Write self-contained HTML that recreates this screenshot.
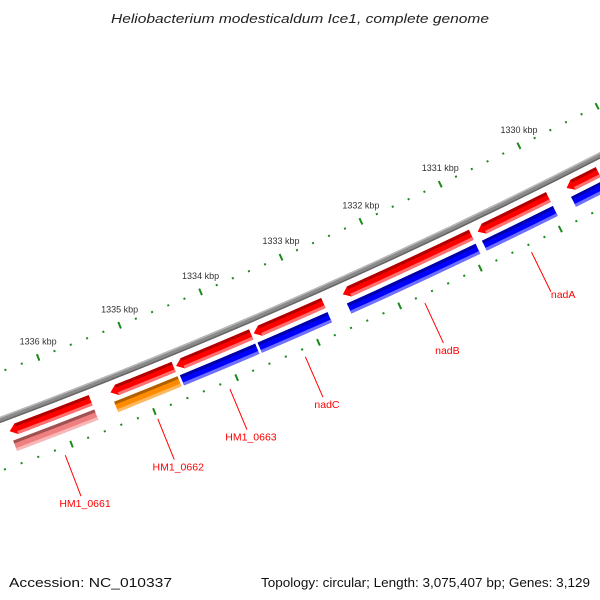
<!DOCTYPE html>
<html><head><meta charset="utf-8"><style>
html,body{margin:0;padding:0;background:#fff;}
svg{display:block;font-family:"Liberation Sans","DejaVu Sans",sans-serif;}
</style></head><body>
<svg id="chart" width="600" height="600" viewBox="0 0 600 600" xmlns="http://www.w3.org/2000/svg">
<rect width="600" height="600" fill="#fff"/>
<text x="300" y="23" text-anchor="middle" font-size="13" font-style="italic" fill="#222" textLength="378" lengthAdjust="spacingAndGlyphs">Heliobacterium modesticaldum Ice1, complete genome</text>
<text x="9" y="587" font-size="13" fill="#111" textLength="163" lengthAdjust="spacingAndGlyphs">Accession: NC_010337</text>
<text x="590" y="587" text-anchor="end" font-size="13" fill="#111" textLength="329" lengthAdjust="spacingAndGlyphs">Topology: circular; Length: 3,075,407 bp; Genes: 3,129</text>
<g id="plot"></g>
</svg>
<script>
// data (kbp)
const geneNames = ["HM1_0661","HM1_0662","HM1_0663","nadC","nadB","nadA","",""];
const geneStarts = [1336.60,1335.38,1334.58,1333.63,1332.53,1330.85,1329.73,1329.30];
const geneEnds   = [1335.62,1334.61,1333.66,1332.77,1330.93,1329.96,1329.33,1328.40];
const cogColors  = ["pink","orange","blue","blue","blue","blue","blue","blue"];
const tickLabels = [1330,1331,1332,1333,1334,1335,1336];
const tickMin = 1327, tickMax = 1338;

const CX=-1977, CY=-4875;
const A0=66.252, DEG_PER_KBP=0.895;
const R_BACK=5652, R_GENE0=5660.5, R_GENE1=5671.5, R_COG0=5676, R_COG1=5687;
const R_TOUT=5607, R_TIN=5700, R_L0=5708, R_L1=5752;
const NS="http://www.w3.org/2000/svg";
const plot=document.getElementById('plot');
function ang(k){return (A0+(k-1333)*DEG_PER_KBP)*Math.PI/180;}
function pt(r,a){return [CX+r*Math.cos(a), CY+r*Math.sin(a)];}
function f(p){return p[0].toFixed(2)+","+p[1].toFixed(2);}
function band(r0,r1,aS,aL){
  return "M"+f(pt(r0,aS))+" A"+r0+","+r0+" 0 0 1 "+f(pt(r0,aL))+" L"+f(pt(r1,aL))+" A"+r1+","+r1+" 0 0 0 "+f(pt(r1,aS))+" Z";
}
function mk(tag,attrs){const e=document.createElementNS(NS,tag);for(const k in attrs)e.setAttribute(k,attrs[k]);plot.appendChild(e);return e;}
const pal={
  red:["#ff0000","#b00000","#ff7070"],
  blue:["#0000ff","#0000a8","#7070ff"],
  pink:["#f08080","#a05050","#f8b8b8"],
  orange:["#ff8c00","#b06000","#ffb860"]
};

// backbone
{
  const aS=ang(1326), aL=ang(1339);
  let e=mk('path',{d:band(R_BACK-3,R_BACK+3,aS,aL),fill:"#8a8a8a"});
  
  
  e=mk('path',{d:band(R_BACK-3,R_BACK-1.5,aS,aL),fill:"#b8b8b8"});
  
  
  e=mk('path',{d:band(R_BACK+1.5,R_BACK+3,aS,aL),fill:"#666"});
  
  
}

// ticks
function ticks(r,ring){
  for(let i=Math.round(tickMin*5);i<=Math.round(tickMax*5);i++){
    const k=i/5, major=(i%5===0), a=ang(k);
    const h=major?3.5:1;
    const p0=pt(r-h,a), p1=pt(r+h,a);
    const e=mk('line',{x1:p0[0],y1:p0[1],x2:p1[0],y2:p1[1],stroke:"#1a8a1a","stroke-width":major?2:2});
    
    
  }
}
ticks(R_TOUT,'outer');
ticks(R_TIN,'inner');
tickLabels.forEach(k=>{
  const p=pt(R_TOUT,ang(k));
  const t=mk('text',{x:p[0],y:p[1]-13,"text-anchor":"middle","font-size":"9",fill:"#333"});
  t.textContent=k+" kbp";
  
  
});

// genes
const arrowAng=7/R_GENE0;
geneStarts.forEach((ks,i)=>{
  const ke=geneEnds[i];
  const aL=ang(ks), aS=ang(ke), aB=aL-arrowAng;
  const rm=(R_GENE0+R_GENE1)/2;
  const c=pal.red;
  const d="M"+f(pt(R_GENE0,aS))+" A"+R_GENE0+","+R_GENE0+" 0 0 1 "+f(pt(R_GENE0,aB))+" L"+f(pt(rm,aL))+" L"+f(pt(R_GENE1,aB))+" A"+R_GENE1+","+R_GENE1+" 0 0 0 "+f(pt(R_GENE1,aS))+" Z";
  let e=mk('path',{d:d,fill:c[0]});
  
  
  e=mk('path',{d:band(R_GENE0,R_GENE0+3,aS,aB),fill:c[1]});
  
  
  e=mk('path',{d:band(R_GENE1-3,R_GENE1,aS,aB),fill:c[2]});
  
  
  // cog ring
  const cc=pal[cogColors[i]];
  e=mk('path',{d:band(R_COG0,R_COG1,aS,aL),fill:cc[0]});
  
  
  e=mk('path',{d:band(R_COG0,R_COG0+3,aS,aL),fill:cc[1]});
  
  
  e=mk('path',{d:band(R_COG1-3,R_COG1,aS,aL),fill:cc[2]});
  
  
  // labels
  if(geneNames[i]){
    const am=ang((ks+ke)/2);
    const p0=pt(R_L0,am), p1=pt(R_L1,am);
    e=mk('line',{x1:p0[0],y1:p0[1],x2:p1[0],y2:p1[1],stroke:"#ff0000","stroke-width":1});
    
    
    const start=(geneNames[i]==="nadA");
    const t=mk('text',{x:start?p1[0]:p1[0]+4,y:start?p1[1]+6:p1[1]+11,"text-anchor":start?"start":"middle","font-size":"10.5",fill:"#ff0000"});
    t.textContent=geneNames[i];
    
    
  }
});
</script>
</body></html>
